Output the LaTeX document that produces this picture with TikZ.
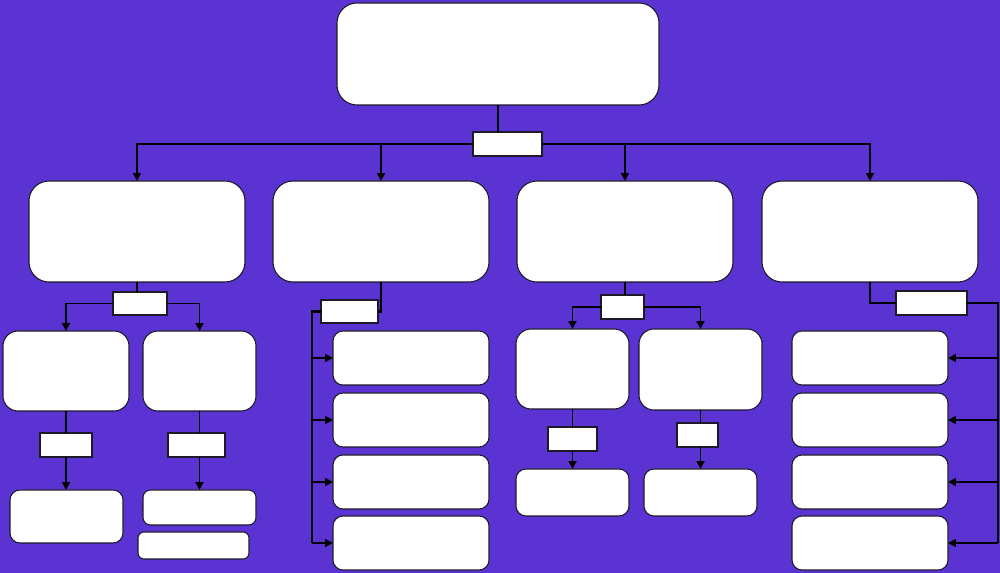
\documentclass[tikz,border=0pt]{standalone}
\usetikzlibrary{arrows.meta}
\definecolor{bgpurple}{RGB}{91,51,211}
\definecolor{edgecol}{RGB}{30,25,40}
\tikzset{
  rb/.style={draw=edgecol, fill=white, line width=0.6pt, inner sep=0pt, outer sep=0pt, rounded corners=#1},
  lab/.style={draw=edgecol, fill=white, line width=0.6pt, inner sep=0pt, outer sep=0pt},
  conn/.style={draw=black, line width=1.1pt},
  thick conn/.style={draw=black, line width=1.4pt},
  arr/.style={conn, -{Triangle[length=4.5pt,width=4.5pt]}},
  tarr/.style={thick conn, -{Triangle[length=4.5pt,width=4.5pt]}}
}
\newcommand\mybox[6]{\node[#1, minimum width={(#5-#3)*0.02cm}, minimum height={(#6-#4)*0.02cm}] (#2) at ({(#3+#5)/2},{(#4+#6)/2}) {};}
\begin{document}
\begin{tikzpicture}[x=0.02cm, y=-0.02cm]
\fill[bgpurple] (0,0) rectangle (1000,573);
\useasboundingbox (0,0) rectangle (1000,573);
% top
\mybox{rb=0.4cm}{top}{337}{3}{659}{105}
\mybox{lab}{l0}{473}{132}{542}{156}
% level 2
\mybox{rb=0.4cm}{b1}{29}{181}{245}{282}
\mybox{rb=0.4cm}{b2}{273}{181}{489}{282}
\mybox{rb=0.4cm}{b3}{517}{181}{733}{282}
\mybox{rb=0.4cm}{b4}{762}{181}{978}{282}
% branch 1
\mybox{lab}{l1}{113}{292}{167}{315}
\mybox{rb=0.3cm}{c11}{3}{331}{129}{411}
\mybox{rb=0.3cm}{c12}{143}{331}{256}{411}
\mybox{lab}{l11}{40}{433}{92}{457}
\mybox{lab}{l12}{168}{433}{225}{457}
\mybox{rb=0.2cm}{d11}{10}{490}{123}{543}
\mybox{rb=0.15cm}{d12}{143}{490}{256}{525}
\mybox{rb=0.12cm}{d12b}{138}{532}{249}{559}
% branch 2
\mybox{lab}{l2}{321}{300}{378}{323}
\mybox{rb=0.2cm}{e21}{333}{331}{489}{385}
\mybox{rb=0.2cm}{e22}{333}{393}{489}{447}
\mybox{rb=0.2cm}{e23}{333}{455}{489}{509}
\mybox{rb=0.2cm}{e24}{333}{516}{489}{570}
\coordinate (t2) at (312,543);
% branch 3
\mybox{lab}{l3}{601}{295}{644}{319}
\mybox{rb=0.3cm}{c31}{516}{329}{629}{409}
\mybox{rb=0.3cm}{c32}{639}{329}{762}{410}
\mybox{lab}{l31}{548}{427}{597}{451}
\mybox{lab}{l32}{677}{423}{718}{447}
\mybox{rb=0.2cm}{d31}{516}{469}{629}{516}
\mybox{rb=0.2cm}{d32}{644}{469}{757}{516}
% branch 4
\mybox{lab}{l4}{896}{291}{967}{315}
\mybox{rb=0.2cm}{e41}{792}{331}{948}{385}
\mybox{rb=0.2cm}{e42}{792}{393}{948}{447}
\mybox{rb=0.2cm}{e43}{792}{455}{948}{509}
\mybox{rb=0.2cm}{e44}{792}{516}{948}{570}
\coordinate (t4) at (998,543);
% connectors top
\draw[conn] (top.south) -- (top.south |- l0.north);
\draw[arr] (l0.west) -| (b1.north);
\draw[arr] (l0.west) -| (b2.north);
\draw[arr] (l0.east) -| (b3.north);
\draw[arr] (l0.east) -| (b4.north);
% branch 1 connectors
\draw[conn] (b1.south) -- (b1.south |- l1.north);
\draw[arr] (l1.west) -| (c11.north);
\draw[arr] (l1.east) -| (c12.north);
\draw[conn] (c11.south) -- (c11.south |- l11.north);
\draw[arr] (c11.south |- l11.south) -- (c11.south |- d11.north);
\draw[conn] (c12.south) -- (c12.south |- l12.north);
\draw[arr] (c12.south |- l12.south) -- (d12.north);
% branch 2 connectors
\draw[thick conn] (b2.south) |- (l2.east);
\draw[thick conn] (l2.west) -| (t2);
\draw[tarr] (t2 |- e21.west) -- (e21.west);
\draw[tarr] (t2 |- e22.west) -- (e22.west);
\draw[tarr] (t2 |- e23.west) -- (e23.west);
\draw[tarr] (t2) -- (e24.west);
% branch 3 connectors
\draw[conn] (b3.south) -- (b3.south |- l3.north);
\draw[arr] (l3.west) -| (c31.north);
\draw[arr] (l3.east) -| (c32.north);
\draw[conn] (c31.south) -- (l31.north);
\draw[arr] (l31.south) -- (d31.north);
\draw[conn] (c32.south) -- (c32.south |- l32.north);
\draw[arr] (c32.south |- l32.south) -- (d32.north);
% branch 4 connectors
\draw[thick conn] (b4.south) |- (l4.west);
\draw[thick conn] (l4.east) -| (t4);
\draw[tarr] (t4 |- e41.east) -- (e41.east);
\draw[tarr] (t4 |- e42.east) -- (e42.east);
\draw[tarr] (t4 |- e43.east) -- (e43.east);
\draw[tarr] (t4) -- (e44.east);
\end{tikzpicture}
\end{document}
